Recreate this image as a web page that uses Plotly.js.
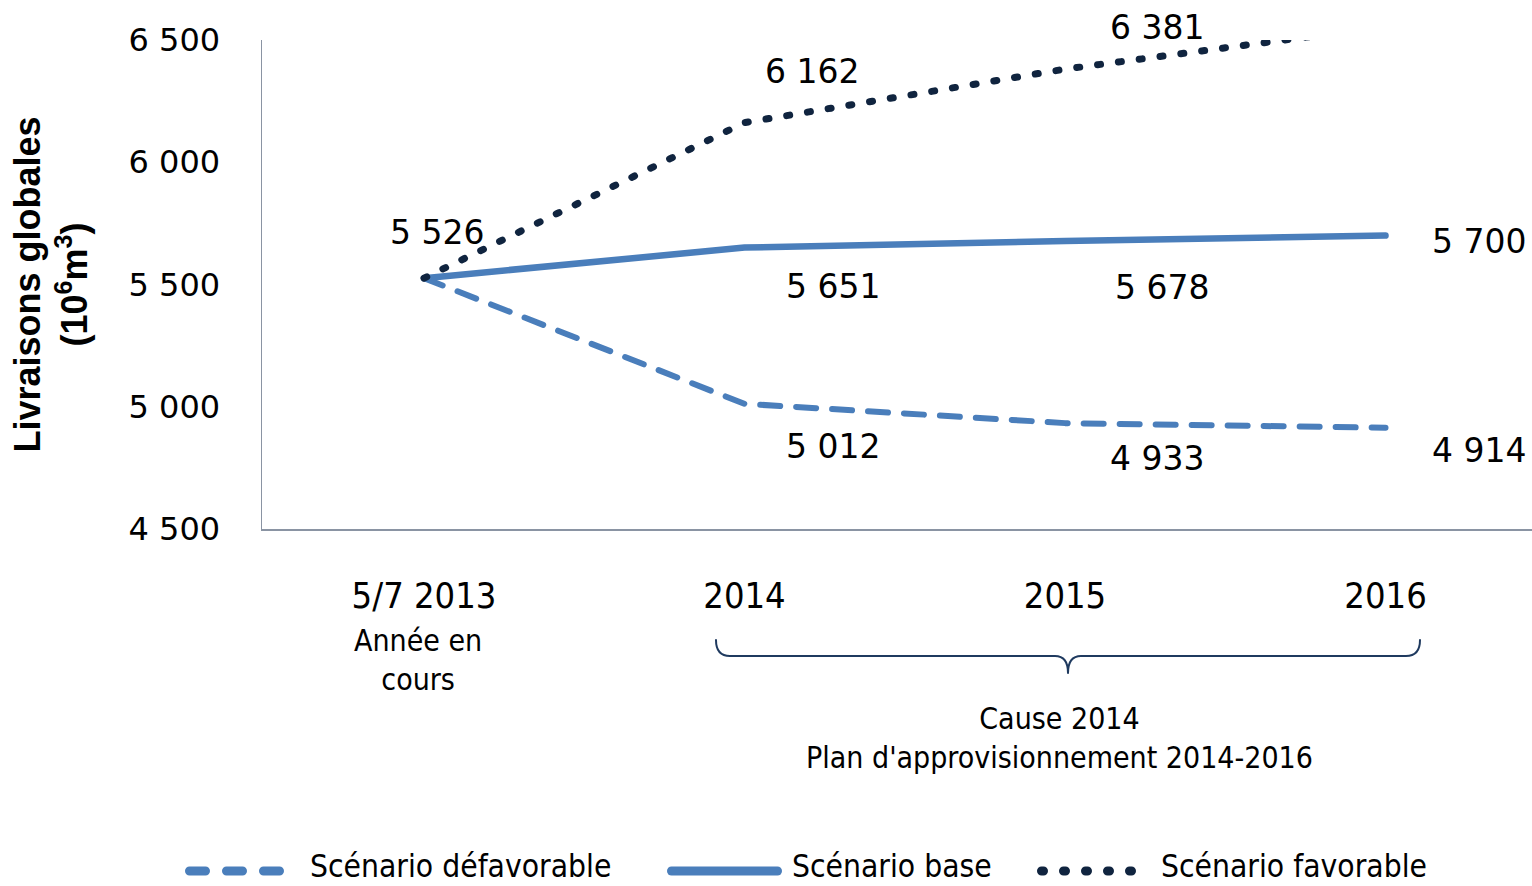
<!DOCTYPE html>
<html>
<head>
<meta charset="utf-8">
<script src="https://cdn.plot.ly/plotly-3.0.1.min.js"></script>
<style>
  html, body { margin: 0; padding: 0; background: #fff; }
  #chart { width: 1532px; height: 886px; }
  .scatterlayer path.js-line, .shapelayer path { stroke-linecap: round; stroke-linejoin: round; }
</style>
</head>
<body>
<div id="chart"></div>
<script>
// ---- data ----
var categories = ["5/7 2013", "2014", "2015", "2016"];
var seriesNames = ["Scénario défavorable", "Scénario base", "Scénario favorable"];
var defavorable = [5526, 5012, 4933, 4914];
var base = [5526, 5651, 5678, 5700];
var favorable = [5526, 6162, 6381, 6555];
var yTickVals = [4500, 5000, 5500, 6000, 6500];
var noteCurrentYear = "Année en<br>cours";
var noteCause = "Cause 2014<br>Plan d'approvisionnement 2014-2016";
var yTitle = "<b>Livraisons globales<br>(10<sup>6</sup>m<sup>3</sup>)</b>";

// ---- styling / positioning (not data) ----
var BLUE = "#4A7EBB";
var NAVY = "#10243F";
var X0 = 262, W = 1270, YB = 529, H = 489;
function px(x) { return (x - X0) / W; }
function py(y) { return (YB - y) / H; }
function fmt(v) { return String(v).replace(/\B(?=(\d{3})+(?!\d))/g, " "); }

// label offsets [xshift, yshift] per series / point; null = hidden
var offDef = [null, [88, -43], [92, -35], [93, -23]];
var offBase = [null, [88, -39], [97, -47], [93, -6]];
var offFav = [[13, 46], [67, 51], [92, 42], null];

var seriesStyles = [
  { color: BLUE, width: 6, dash: "20px,16px" },
  { color: BLUE, width: 6.5, dash: "solid" },
  { color: NAVY, width: 7, dash: "3px,18px" }
];
// custom legend geometry (pixels): sample start, sample end, text start
var legendGeom = [
  { x0: 189.5, x1: 279.5, tx: 308, dash: "16px,21px" },
  { x0: 671.5, x1: 777.5, tx: 790, dash: "solid" },
  { x0: 1041.5, x1: 1131.5, tx: 1159, dash: "2px,20px" }
];
var LEGEND_Y = 871;

var xIdx = categories.map(function (_, i) { return i; });
var seriesValues = [defavorable, base, favorable];

var traces = seriesValues.map(function (vals, s) {
  return { x: xIdx, y: vals, name: seriesNames[s], mode: "lines", type: "scatter",
    line: seriesStyles[s], hoverinfo: "skip", showlegend: false };
});

var annotations = [];
function addLabels(vals, offs) {
  vals.forEach(function (v, i) {
    if (!offs[i]) return;
    annotations.push({ x: i, y: v, xref: "x", yref: "y", text: fmt(v), showarrow: false,
      xanchor: "center", yanchor: "middle", xshift: offs[i][0], yshift: offs[i][1],
      font: { family: "DejaVu Sans", size: 33, color: "#000" } });
  });
}
addLabels(favorable, offFav);
addLabels(base, offBase);
addLabels(defavorable, offDef);

annotations.push({ xref: "paper", yref: "paper", x: px(418), y: py(660), text: noteCurrentYear,
  showarrow: false, xanchor: "center", yanchor: "middle",
  font: { family: "DejaVu Sans Condensed", size: 30, color: "#000" } });
annotations.push({ xref: "paper", yref: "paper", x: px(1059), y: py(738), text: noteCause,
  showarrow: false, xanchor: "center", yanchor: "middle",
  font: { family: "DejaVu Sans Condensed", size: 30, color: "#000" } });

var shapes = [];
function P(x, y) { return px(x).toFixed(5) + "," + py(y).toFixed(5); }
var bracketPath = "M" + P(716, 640) + " Q" + P(716, 656) + " " + P(730, 656) +
  " L" + P(1055, 656) + " Q" + P(1068, 656) + " " + P(1068, 673) +
  " Q" + P(1068, 656) + " " + P(1081, 656) + " L" + P(1406, 656) +
  " Q" + P(1420, 656) + " " + P(1420, 640);
shapes.push({ type: "path", xref: "paper", yref: "paper", path: bracketPath,
  line: { color: "#1F3A5F", width: 2 } });

// legend built from the series names / styles
seriesNames.forEach(function (name, s) {
  var g = legendGeom[s];
  shapes.push({ type: "line", xref: "paper", yref: "paper",
    x0: px(g.x0), x1: px(g.x1), y0: py(LEGEND_Y), y1: py(LEGEND_Y),
    line: { color: seriesStyles[s].color, width: 9, dash: g.dash } });
  annotations.push({ xref: "paper", yref: "paper", x: px(g.tx), y: py(LEGEND_Y - 5), text: name,
    showarrow: false, xanchor: "left", yanchor: "middle",
    font: { family: "DejaVu Sans Condensed", size: 31.5, color: "#000" } });
});

var layout = {
  width: 1532, height: 886,
  margin: { l: 262, r: 0, t: 40, b: 357, autoexpand: false },
  paper_bgcolor: "#fff", plot_bgcolor: "#fff",
  separators: ", ",
  showlegend: false,
  xaxis: {
    range: [-0.5055, 3.457], tickmode: "array", tickvals: xIdx, ticktext: categories,
    showline: true, linecolor: "#8A94A3", linewidth: 1.5, showgrid: false, zeroline: false,
    ticks: "", ticklabelstandoff: 34, automargin: false,
    tickfont: { family: "DejaVu Sans Condensed", size: 36, color: "#000" }, fixedrange: true
  },
  yaxis: {
    range: [4500, 6500], tickvals: yTickVals, tickformat: ",d",
    showline: true, linecolor: "#8A94A3", linewidth: 1.5, showgrid: false, zeroline: false,
    ticks: "", ticklabelstandoff: 34,
    tickfont: { family: "DejaVu Sans", size: 32, color: "#000" },
    title: { text: yTitle, standoff: 30, font: { family: "Liberation Sans", size: 36, color: "#000" } },
    automargin: false, fixedrange: true
  },
  shapes: shapes,
  annotations: annotations
};

Plotly.newPlot("chart", traces, layout, { displayModeBar: false, staticPlot: true });
</script>
</body>
</html>
